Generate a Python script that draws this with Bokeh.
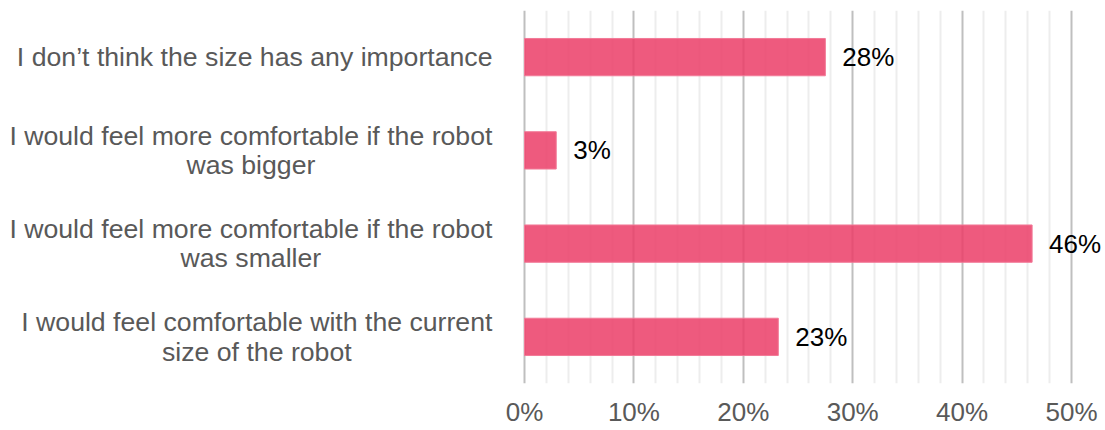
from bokeh.plotting import figure
from bokeh.models import (ColumnDataSource, Label, FixedTicker,
                          PrintfTickFormatter, Range1d, FactorRange)
from bokeh.embed import file_html
from bokeh.resources import INLINE

categories = [
    "I don\u2019t think the size has any importance",
    "I would feel more comfortable if the robot\nwas bigger",
    "I would feel more comfortable if the robot\nwas smaller",
    "I would feel comfortable with the current\nsize of the robot",
]
values = [27.5, 2.9, 46.4, 23.2]
value_labels = ["28%", "3%", "46%", "23%"]
x_start, x_end, x_step, x_minor_step = 0, 50, 10, 2

FONT = "Liberation Sans"
CAT_SIZE = 26.67
CAT_GAP = 32

# page layout (px): where the value axis 0 and 50% sit across the figure
W, H = 1105, 430
AX_LEFT, AX_RIGHT = 524, 1071

# Arial / Liberation Sans advance widths (1/1000 em), used to centre
# the lines of a wrapped category label inside a right-aligned block
ADV = {" ": 278, "I": 278, "\u2019": 222, "a": 556, "b": 556, "c": 500,
       "d": 556, "e": 556, "f": 278, "g": 556, "h": 556, "i": 222,
       "k": 500, "l": 222, "m": 833, "n": 556, "o": 556, "p": 556,
       "r": 333, "s": 500, "t": 278, "u": 556, "v": 500, "w": 722,
       "y": 500, "z": 500}


def text_width(s, size):
    return sum(ADV.get(ch, 556) for ch in s) * size / 1000.0


factors = list(reversed(categories))


def ypos(cat):
    # synthetic coordinate of a factor's centre on the FactorRange
    return factors.index(cat) + 0.5


# the frame spans the whole width so that labels are not clipped
upp = (x_end - x_start) / (AX_RIGHT - AX_LEFT)
x_lo = x_start - AX_LEFT * upp
x_hi = x_end + (W - AX_RIGHT) * upp

src = ColumnDataSource(dict(cat=categories, val=values, lbl=value_labels))

p = figure(width=W, height=H,
           y_range=FactorRange(*factors),
           x_range=Range1d(x_lo, x_hi),
           output_backend="svg", toolbar_location=None,
           min_border_left=0, min_border_right=0,
           min_border_top=10, min_border_bottom=47)
p.outline_line_color = None
p.background_fill_color = "white"
p.border_fill_color = "white"

major = list(range(x_start, x_end + 1, x_step))
minor = [m for m in range(x_start, x_end + 1, x_minor_step) if m not in major]
ticker = FixedTicker(ticks=major, minor_ticks=minor)
p.xaxis.ticker = ticker
p.xgrid.ticker = ticker
p.xgrid.grid_line_color = "#BFBFBF"
p.xgrid.grid_line_width = 2
p.xgrid.minor_grid_line_color = "#EDEDED"
p.xgrid.minor_grid_line_width = 2
p.ygrid.grid_line_color = None

p.hbar(y="cat", right="val", left=x_start, height=0.4, source=src,
       fill_color="#EB3D67", fill_alpha=0.85,
       line_color="#F27A98", line_width=1)

p.xaxis.formatter = PrintfTickFormatter(format="%d%%")
p.xaxis.axis_line_color = None
p.xaxis.major_tick_line_color = None
p.xaxis.minor_tick_line_color = None
p.xaxis.major_tick_out = 0
p.xaxis.major_tick_in = 0
p.xaxis.minor_tick_out = 0
p.xaxis.major_label_text_font = FONT
p.xaxis.major_label_text_color = "#595959"
p.xaxis.major_label_text_font_size = "26px"
p.xaxis.major_label_standoff = 13
p.yaxis.visible = False

# category labels: block right-aligned, lines centred within the block
for cat in categories:
    lines = cat.split("\n")
    if len(lines) == 1:
        align, dx = "right", -CAT_GAP
    else:
        w = max(text_width(s, CAT_SIZE) for s in lines)
        align, dx = "center", -(CAT_GAP + w / 2)
    p.add_layout(Label(x=x_start, y=ypos(cat), text=cat, x_offset=dx,
                       text_align=align, text_baseline="middle",
                       text_font=FONT, text_font_size=f"{CAT_SIZE}px",
                       text_color="#595959", text_line_height=0.98))

for cat, v, t in zip(categories, values, value_labels):
    p.add_layout(Label(x=v, y=ypos(cat), text=t, x_offset=17,
                       text_align="left", text_baseline="middle",
                       text_font=FONT, text_font_size="26px",
                       text_color="#000000"))

open("out.html", "w").write(file_html(p, INLINE))
